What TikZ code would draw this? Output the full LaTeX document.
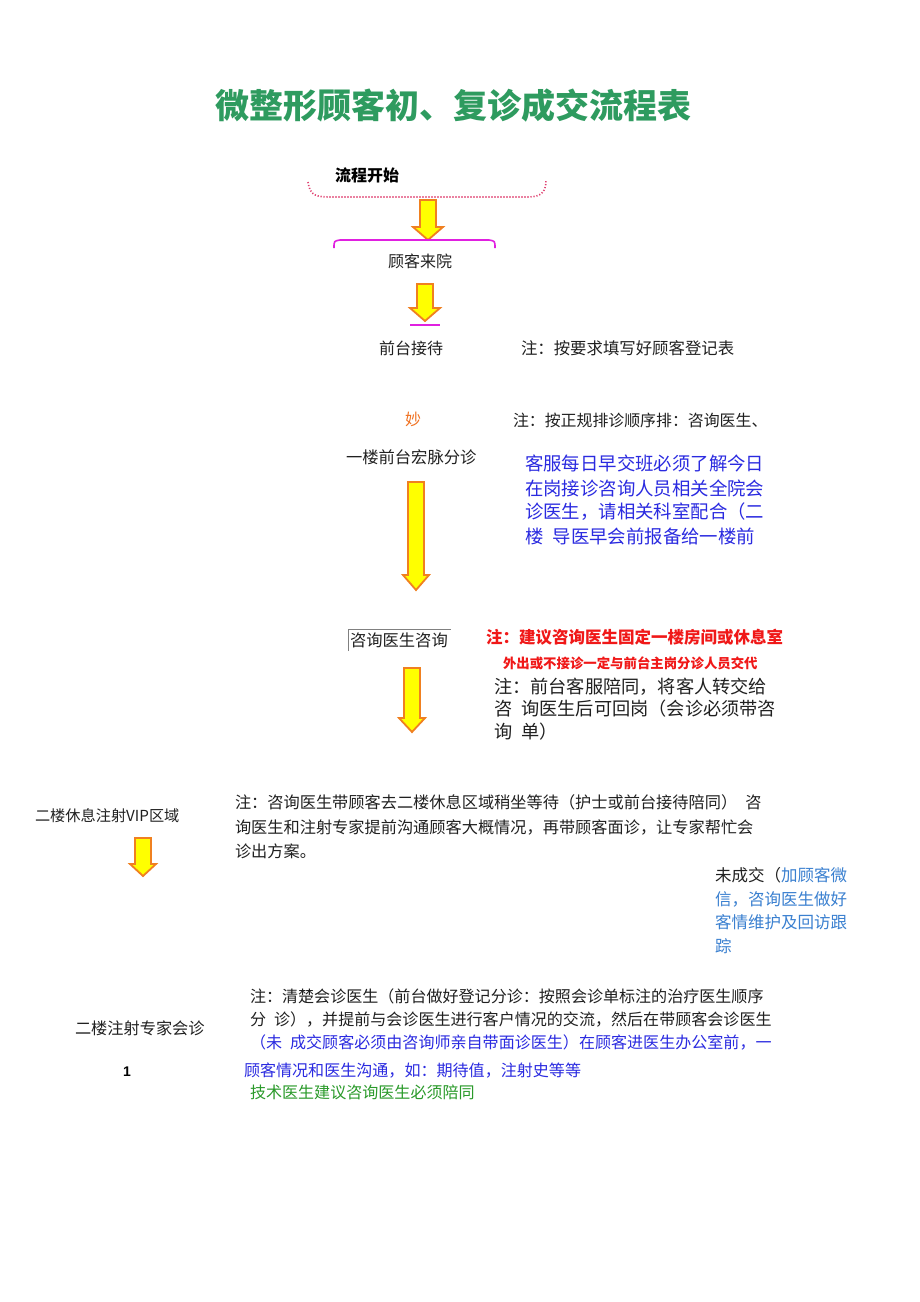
\documentclass[tikz,border=0pt]{standalone}
\usepackage{fontspec}
\setmainfont{Noto Sans CJK SC}
\newfontfamily\latinb{Liberation Sans}
\definecolor{titlegreen}{HTML}{2E9B5F}
\definecolor{noteblue}{HTML}{2A2AE0}
\definecolor{lightblue}{HTML}{3A80D0}
\definecolor{notegreen}{HTML}{2A9A2A}
\definecolor{notered}{HTML}{F01818}
\definecolor{orangetxt}{HTML}{F07020}
\definecolor{magentaline}{HTML}{E020E0}
\definecolor{dotpink}{HTML}{E04070}
\definecolor{arrowfill}{HTML}{FFFF00}
\definecolor{arrowedge}{HTML}{F08020}
\definecolor{bodygray}{HTML}{202020}
\newcommand\fsz[1]{\fontsize{#1}{#1}\selectfont}
% block arrow: x center, top y, head start y, tip y, half shaft, half head
\newcommand\bdarrow[6]{%
  \draw[blockarrow] (#1-#5,#2) -- (#1+#5,#2) -- (#1+#5,#3) -- (#1+#6,#3) -- (#1,#4) -- (#1-#6,#3) -- (#1-#5,#3) -- cycle;}
\begin{document}
\begin{tikzpicture}[x=1pt,y=-1pt,
  txt/.style={inner sep=0pt, outer sep=0pt, anchor=west, text=bodygray},
  blockarrow/.style={fill=arrowfill, draw=arrowedge, line width=1.8pt, line join=miter},
]
\useasboundingbox[fill=white] (0,0) rectangle (920,1302);

% title
\node[inner sep=0pt, text=titlegreen, font=\fsz{34}\bfseries] (title) at (453,106) {微整形顾客初、复诊成交流程表};

% start
\node[txt, font=\fsz{16}\bfseries, text=black] (start) at (335,175) {流程开始};
\draw[dotpink, line width=1.6pt, dash pattern=on 1.2pt off 1.8pt] (308,182) .. controls (310,196) and (316,197) .. (332,197) -- (528,197) .. controls (542,197) and (546,191) .. (546,180);

\bdarrow{428}{200}{227}{240}{8}{15}

\draw[magentaline, line width=1.6pt] (334,248) .. controls (334,241) .. (340,240) -- (489,240) .. controls (495,241) .. (495,248);

\node[txt, font=\fsz{16}] (visit) at (388,261) {顾客来院};

\bdarrow{425}{284}{308}{321}{8}{15}
\draw[magentaline, line width=1.4pt] (410,325) -- (440,325);

\node[txt, font=\fsz{16}] (front) at (379,348) {前台接待};
\node[txt, font=\fsz{16.4}] (note1) at (521,348) {注：按要求填写好顾客登记表};

\node[txt, font=\fsz{16}, text=orangetxt] (miao) at (405,419) {妙};
\node[txt, font=\fsz{15.9}] (note2) at (513,420) {注：按正规排诊顺序排：咨询医生、};

\node[txt, font=\fsz{16.3}] (triage) at (346,457) {一楼前台宏脉分诊};
\node[txt, font=\fsz{18.4}, text=noteblue] (b1) at (525,463) {客服每日早交班必须了解今日};
\node[txt, font=\fsz{18.4}, text=noteblue] (b2) at (525,488) {在岗接诊咨询人员相关全院会};
\node[txt, font=\fsz{18.4}, text=noteblue] (b3) at (525,512) {诊医生，请相关科室配合（二};
\node[txt, font=\fsz{18.4}, text=noteblue] (b4) at (525,536) {楼\hspace{0.5em}导医早会前报备给一楼前};

\bdarrow{416}{482}{575}{590}{8}{13}

\node[txt, font=\fsz{16.3}] (consult) at (350,640) {咨询医生咨询};
\draw[gray, line width=0.6pt] (348,651) -- (348,629) -- (451,629);
\node[txt, font=\fsz{16.5}\bfseries, text=notered] (r1) at (486,637) {注：建议咨询医生固定一楼房间或休息室};
\node[txt, font=\fsz{13.4}\bfseries, text=notered] (r2) at (503,663) {外出或不接诊一定与前台主岗分诊人员交代};
\node[txt, font=\fsz{18.2}] (c1) at (494,687) {注：前台客服陪同，将客人转交给};
\node[txt, font=\fsz{18.2}] (c2) at (494,709) {咨\hspace{0.5em}询医生后可回岗（会诊必须带咨};
\node[txt, font=\fsz{18.2}] (c3) at (494,732) {询\hspace{0.5em}单）};

\bdarrow{412}{668}{718}{732}{8}{13}

\node[txt, font=\fsz{15.2}] (vip) at (35,816) {二楼休息注射VIP区域};
\bdarrow{143}{838}{864}{876}{8}{13}

\node[txt, font=\fsz{16.2}] (v1) at (235,802) {注：咨询医生带顾客去二楼休息区域稍坐等待（护士或前台接待陪同）\hspace{0.5em}咨};
\node[txt, font=\fsz{16.2}] (v2) at (235,827) {询医生和注射专家提前沟通顾客大概情况，再带顾客面诊，让专家帮忙会};
\node[txt, font=\fsz{16.2}] (v3) at (235,851) {诊出方案。};

\node[txt, font=\fsz{16.5}] (u1) at (715,875) {未成交（\textcolor{lightblue}{加顾客微}};
\node[txt, font=\fsz{16.5}, text=lightblue] (u2) at (715,899) {信，咨询医生做好};
\node[txt, font=\fsz{16.5}, text=lightblue] (u3) at (715,922) {客情维护及回访跟};
\node[txt, font=\fsz{16.5}, text=lightblue] (u4) at (715,946) {踪};

\node[txt, font=\fsz{16.2}] (expert) at (75,1028) {二楼注射专家会诊};
\node[inner sep=0pt, font=\latinb\fsz{14}\bfseries, text=black] (one) at (127,1072) {1};

\node[txt, font=\fsz{16.05}] (e1) at (250,996) {注：清楚会诊医生（前台做好登记分诊：按照会诊单标注的治疗医生顺序};
\node[txt, font=\fsz{16.05}] (e2) at (250,1019) {分\hspace{0.5em}诊），并提前与会诊医生进行客户情况的交流，然后在带顾客会诊医生};
\node[txt, font=\fsz{16.05}, text=noteblue] (e3) at (250,1042) {（未\hspace{0.5em}成交顾客必须由咨询师亲自带面诊医生）在顾客进医生办公室前，一};
\node[txt, font=\fsz{16.05}, text=noteblue] (e4) at (244,1071) {顾客情况和医生沟通，如：期待值，注射史等等};
\node[txt, font=\fsz{16.05}, text=notegreen] (e5) at (250,1092) {技术医生建议咨询医生必须陪同};
\end{tikzpicture}
\end{document}
